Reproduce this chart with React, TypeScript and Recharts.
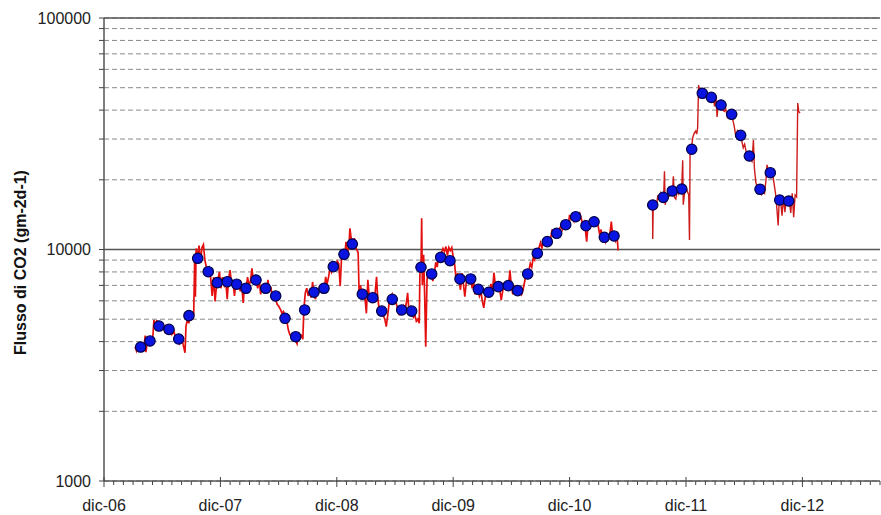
import React from 'react';
import { ComposedChart, Line, XAxis, YAxis, CartesianGrid, ReferenceLine } from 'recharts';

// month index: 0 = dic-06
const xTickLabels = ['dic-06', 'dic-07', 'dic-08', 'dic-09', 'dic-10', 'dic-11', 'dic-12'];
const monthTicks = Array.from({ length: 81 }, (_, i) => i);
const yTicks = [1000, 2000, 3000, 4000, 5000, 6000, 7000, 8000, 9000, 10000, 20000, 30000, 40000, 50000, 60000, 70000, 80000, 90000, 100000];
const yLabelTicks = [1000, 10000, 100000];

// daily flux (red), segment 2007-2010
const redSeg1: [number, number][] = [
  [3.2,3800],[3.35,3650],[3.5,3850],[3.65,3700],[3.8,3780],[3.95,3900],[4.1,3720],[4.25,4250],[4.32,3600],[4.45,3950],[4.6,4100],[4.75,4000],[4.9,3850],[5.05,4300],[5.15,4960],[5.3,4700],[5.45,4950],[5.6,4600],[5.75,4800],[5.9,4550],[6.05,4750],[6.25,4450],[6.4,4680],[6.6,4500],[6.8,4600],[7.0,4300],[7.2,4450],[7.4,4100],[7.6,4200],[7.8,3950],[8.0,4250],[8.15,3900],[8.35,3580],[8.45,4640],[8.6,5000],[8.75,4800],[8.9,5400],[9.1,5000],[9.25,5300],[9.35,9200],[9.42,6250],[9.5,10100],[9.65,9200],[9.8,10400],[9.95,8800],[10.1,10200],[10.25,10500],[10.4,9000],[10.55,8400],[10.7,8000],[10.85,8300],[11.0,7500],[11.15,6300],[11.3,7600],[11.45,5960],[11.6,7000],[11.75,7400],[11.9,8000],[12.05,6800],[12.2,7600],[12.4,7000],[12.55,7300],[12.7,6100],[12.85,7500],[13.0,8150],[13.15,7000],[13.3,7300],[13.45,6300],[13.6,7300],[13.75,6900],[13.9,7100],[14.05,6600],[14.2,7000],[14.35,5880],[14.5,7100],[14.65,6800],[14.8,7600],[14.95,7000],[15.1,7300],[15.25,8300],[15.4,7300],[15.55,7700],[15.7,7200],[15.85,6800],[16.0,7400],[16.15,6400],[16.3,7000],[16.45,6500],[16.6,7100],[16.75,6700],[16.9,7400],[17.05,6600],[17.2,6900],[17.35,6200],[17.5,6400],[17.7,6100],[17.85,5800],[18.0,5700],[18.2,5500],[18.35,5300],[18.5,5400],[18.7,5100],[18.85,4900],[19.0,4500],[19.15,4300],[19.3,4200],[19.45,4150],[19.6,4250],[19.75,4050],[19.9,3920],[20.05,4300],[20.2,4150],[20.35,4250],[20.5,4100],[20.6,5500],[20.75,6500],[20.9,6800],[21.05,6300],[21.2,6600],[21.35,6200],[21.5,7240],[21.65,6400],[21.8,6100],[21.95,6700],[22.1,6500],[22.25,7000],[22.4,6600],[22.55,6900],[22.7,6600],[22.85,7620],[23.0,7100],[23.15,7600],[23.3,8300],[23.45,8000],[23.6,8700],[23.75,8300],[23.9,8500],[24.05,8900],[24.2,8700],[24.35,6950],[24.5,9400],[24.65,9800],[24.8,9200],[24.95,10800],[25.1,9800],[25.25,10200],[25.35,12350],[25.5,11000],[25.65,10500],[25.8,11200],[25.95,10200],[26.1,9900],[26.2,9700],[26.3,6460],[26.45,7000],[26.6,6300],[26.75,6600],[26.9,6200],[27.05,5300],[27.2,7390],[27.35,6200],[27.5,6000],[27.65,6400],[27.8,6100],[27.95,6500],[28.1,7620],[28.2,6300],[28.35,5600],[28.5,5300],[28.65,5500],[28.8,5200],[28.95,5000],[29.1,4640],[29.25,5200],[29.4,5900],[29.55,6200],[29.7,6400],[29.85,5900],[30.0,6100],[30.15,5800],[30.3,5500],[30.45,5200],[30.6,5600],[30.75,5400],[30.9,5700],[31.05,5500],[31.2,6000],[31.3,6500],[31.45,5300],[31.6,5600],[31.75,5300],[31.9,5100],[32.05,5200],[32.2,4900],[32.35,5000],[32.5,4800],[32.58,8600],[32.68,8300],[32.75,13640],[32.82,7000],[32.95,9500],[33.05,6500],[33.17,3800],[33.3,7400],[33.45,8200],[33.6,7700],[33.75,8000],[33.9,7300],[34.05,7800],[34.2,8800],[34.35,8400],[34.5,9500],[34.65,9100],[34.8,9700],[34.95,10100],[35.1,9800],[35.25,10300],[35.4,9400],[35.55,10200],[35.7,9900],[35.85,10200],[36.0,9300],[36.15,8600],[36.3,7400],[36.45,7900],[36.6,7400],[36.75,6700],[36.9,7900],[37.05,7100],[37.2,6250],[37.35,7200],[37.5,7700],[37.65,7200],[37.8,7500],[37.95,6800],[38.1,7300],[38.25,6400],[38.4,6900],[38.55,6700],[38.7,6300],[38.85,6600],[39.0,6000],[39.15,5600],[39.3,6200],[39.45,6700],[39.6,6400],[39.75,6700],[39.9,7100],[40.05,6600],[40.2,7940],[40.35,7000],[40.5,6800],[40.65,7000],[40.8,6700],[40.95,6050],[41.1,6600],[41.25,7200],[41.4,6800],[41.55,7000],[41.7,6900],[41.85,8120],[42.0,6900],[42.15,6400],[42.3,6900],[42.45,6700],[42.6,6500],[42.75,6700],[42.9,6600],[43.05,6400],[43.2,6700],[43.35,7200],[43.5,7800],[43.65,7600],[43.8,8100],[43.95,8700],[44.1,8400],[44.25,9200],[44.4,9000],[44.55,9800],[44.7,9500],[44.85,10200],[45.0,10700],[45.15,10100],[45.3,11100],[45.45,10600],[45.6,10900],[45.75,11400],[45.9,10500],[46.05,11200],[46.2,12200],[46.35,11500],[46.5,11800],[46.65,12000],[46.8,11600],[46.95,12300],[47.1,12600],[47.25,12200],[47.4,13000],[47.55,12500],[47.7,13200],[47.85,12700],[48.0,14100],[48.15,13500],[48.3,13900],[48.45,13300],[48.6,14200],[48.75,13400],[48.9,13800],[49.05,14300],[49.2,13600],[49.35,12900],[49.5,13200],[49.6,12500],[49.76,10800],[49.9,12800],[50.05,13200],[50.2,13000],[50.35,13500],[50.5,13100],[50.65,13400],[50.8,12900],[50.95,12600],[51.1,11600],[51.25,12200],[51.4,11000],[51.55,11300],[51.7,10800],[51.85,11500],[52.0,11200],[52.15,11600],[52.3,13200],[52.45,11400],[52.6,11700],[52.75,10900],[52.9,11300],[53.0,9900],
];

// daily flux (red), segment 2011-2012
const redSeg2: [number, number][] = [
  [56.55,15560],[56.57,11100],[56.62,15300],[56.8,16000],[56.95,15400],[57.1,17200],[57.25,16500],[57.4,17500],[57.55,16600],[57.7,17000],[57.78,21800],[57.85,15600],[58.0,16800],[58.15,17800],[58.3,16900],[58.45,18300],[58.6,17600],[58.7,20700],[58.8,16800],[58.95,16500],[59.1,18000],[59.25,17400],[59.4,18300],[59.55,17900],[59.66,24300],[59.72,15600],[59.85,17600],[60.0,18600],[60.15,17800],[60.28,17200],[60.36,11000],[60.42,26000],[60.55,27200],[60.7,30500],[60.85,31800],[61.0,32500],[61.1,31500],[61.2,33500],[61.3,51300],[61.45,47000],[61.6,49000],[61.75,46500],[61.9,48000],[62.05,46000],[62.2,47200],[62.35,45500],[62.5,46000],[62.65,44500],[62.8,45500],[62.95,41500],[63.1,45000],[63.2,37400],[63.35,43000],[63.5,42500],[63.65,41500],[63.8,40000],[63.95,39500],[64.1,40500],[64.25,37500],[64.4,39000],[64.55,38000],[64.7,37000],[64.85,36000],[65.0,33500],[65.15,30500],[65.3,32500],[65.45,31500],[65.6,30500],[65.75,29500],[65.9,27500],[66.05,28500],[66.2,26500],[66.35,25800],[66.5,25200],[66.65,24500],[66.8,24000],[66.95,29700],[67.05,22500],[67.2,19500],[67.35,18500],[67.5,18800],[67.65,18000],[67.8,17300],[67.95,17800],[68.1,17500],[68.25,20000],[68.35,23200],[68.5,22000],[68.65,21500],[68.8,20500],[68.95,21000],[69.1,19000],[69.25,17200],[69.4,14500],[69.5,12700],[69.6,16000],[69.75,16300],[69.9,14000],[70.05,16800],[70.2,14500],[70.35,17000],[70.5,15500],[70.65,16200],[70.8,14400],[70.95,17500],[71.1,13800],[71.25,17200],[71.4,16900],[71.52,42950],[71.62,39500],[71.75,38800],
];

// monthly means (blue dots)
const dotMonths = [3.78,4.74,5.67,6.70,7.70,8.76,9.66,10.75,11.68,12.71,13.68,14.64,15.67,16.67,17.70,18.66,19.76,20.69,21.65,22.68,23.64,24.74,25.6,26.63,27.7,28.63,29.72,30.69,31.72,32.68,33.78,34.71,35.67,36.70,37.8,38.59,39.66,40.65,41.68,42.65,43.68,44.67,45.7,46.67,47.6,48.63,49.69,50.52,51.58,52.58,56.57,57.66,58.59,59.56,60.59,61.68,62.61,63.61,64.71,65.64,66.53,67.63,68.69,69.66,70.59];
const dotValues = [3790,4026,4670,4520,4105,5180,9160,8020,7190,7260,7080,6800,7385,6800,6300,5045,4200,5480,6540,6800,8430,9535,10560,6410,6190,5420,6090,5480,5420,8380,7840,9250,8945,7460,7460,6730,6535,6910,6980,6640,7840,9630,10810,11750,12800,13860,12670,13180,11290,11440,15570,16800,17900,18250,27100,47280,45430,42090,38370,31130,25340,18200,21470,16360,16200];

const seg1Data = redSeg1.map(([m, v]) => ({ m, v }));
const seg2Data = redSeg2.map(([m, v]) => ({ m, v }));
const dotData = dotMonths.map((m, i) => ({ m, v: dotValues[i] }));

const FONT = '"Liberation Sans", Arial, sans-serif';

const XTick = (props: any) => {
  const { x, y, payload } = props;
  const m = payload.value as number;
  const major = m % 12 === 0;
  const idx = m / 12;
  return (
    <g>
      <line x1={x} x2={x} y1={major ? y - 4 : y} y2={major ? y + 6 : y + 4} stroke="#444" strokeWidth={1} />
      {major && idx < xTickLabels.length && (
        <text x={x} y={y + 30} textAnchor="middle" fontSize={16} fill="#222" fontFamily={FONT}>
          {xTickLabels[idx]}
        </text>
      )}
    </g>
  );
};

const YTick = (props: any) => {
  const { x, y, payload } = props;
  const v = payload.value as number;
  const show = yLabelTicks.includes(v);
  return (
    <g>
      <line x1={x - 5} x2={x} y1={y} y2={y} stroke="#444" strokeWidth={1} />
      {show && (
        <text x={x - 13} y={y} dy={5.5} textAnchor="end" fontSize={16} fill="#222" fontFamily={FONT}>
          {String(v)}
        </text>
      )}
    </g>
  );
};

const YLabel = (props: any) => {
  const vb = props.viewBox || { x: 0, y: 18, width: 104, height: 463 };
  const cx = vb.x + 25.5;
  const cy = vb.y + vb.height / 2 + 13;
  return (
    <text
      x={cx}
      y={cy}
      transform={`rotate(-90 ${cx} ${cy})`}
      textAnchor="middle"
      fontSize={16}
      fontWeight="bold"
      fill="#111"
      fontFamily={FONT}
    >
      Flusso di CO2 (gm-2d-1)
    </text>
  );
};

const BlueDot = (p: any) => {
  if (p.cx == null || p.cy == null) return <g key={p.index} />;
  return <circle key={p.index} cx={p.cx} cy={p.cy} r={5.2} fill="#0a14e0" stroke="#00004a" strokeWidth={1.2} />;
};

export default function App() {
  return (
    <div style={{ position: 'absolute', left: 0, top: 0, width: 881, height: 515, background: '#fff' }}>
      <ComposedChart width={881} height={515} margin={{ top: 18, right: 1, bottom: 0, left: 0 }}>
        <CartesianGrid horizontal vertical={false} stroke="#8a8a8a" strokeDasharray="5 3" />
        <XAxis
          type="number"
          dataKey="m"
          domain={[0, 80]}
          ticks={monthTicks}
          interval={0}
          allowDataOverflow
          height={34}
          tickSize={0}
          tickMargin={0}
          tickLine={false}
          axisLine={{ stroke: '#555', strokeWidth: 1.5 }}
          tick={<XTick />}
        />
        <YAxis
          type="number"
          dataKey="v"
          scale="log"
          domain={[1000, 100000]}
          ticks={yTicks}
          interval={0}
          allowDataOverflow
          width={104}
          tickSize={0}
          tickMargin={0}
          tickLine={false}
          axisLine={{ stroke: '#555', strokeWidth: 1.5 }}
          tick={<YTick />}
          label={<YLabel />}
        />
        <ReferenceLine y={10000} stroke="#555" strokeWidth={1.3} />
        <ReferenceLine y={100000} stroke="#555" strokeWidth={1.3} />
        <Line data={seg1Data} dataKey="v" type="linear" stroke="#e41010" strokeWidth={1.7} dot={false} isAnimationActive={false} />
        <Line data={seg2Data} dataKey="v" type="linear" stroke="#cc1c1c" strokeWidth={1.4} dot={false} isAnimationActive={false} />
        <Line data={dotData} dataKey="v" type="linear" stroke="none" dot={BlueDot} activeDot={false} isAnimationActive={false} />
      </ComposedChart>
    </div>
  );
}
